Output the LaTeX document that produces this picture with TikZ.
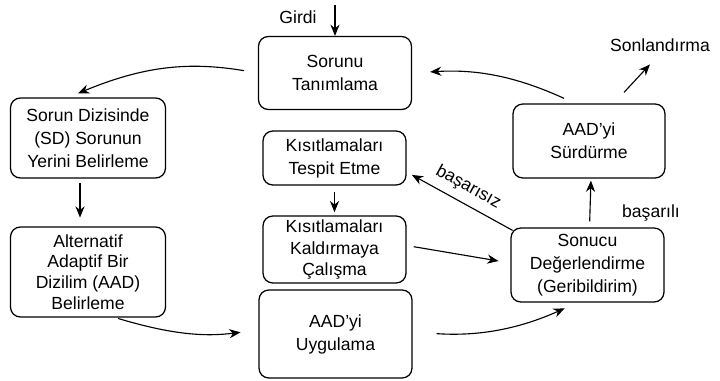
\documentclass[tikz,border=0pt]{standalone}
\usepackage{fontspec}
\setmainfont{Liberation Sans}
\usetikzlibrary{arrows.meta}

\tikzset{
  kutu/.style={draw, line width=0.9pt, rounded corners=7pt, align=center,
    font=\fontsize{12.5}{16.3}\selectfont, inner sep=2pt},
  ok/.style={-{Stealth[length=8pt,width=6.5pt]}, line width=0.8pt},
  etiket/.style={font=\fontsize{12.5}{14}\selectfont}
}

\begin{document}
\begin{tikzpicture}
    \useasboundingbox (0,0) rectangle (18,-9.525);
    % kutular
    \node[kutu, minimum width=3.825cm, minimum height=1.825cm] (sorunu) at (8.375,-1.825) {Sorunu\\Tanımlama};
    \node[kutu, minimum width=3.875cm, minimum height=2cm] (dizi) at (2.2,-3.45) {Sorun Dizisinde\\(SD) Sorunun\\Yerini Belirleme};
    \node[kutu, minimum width=3.875cm, minimum height=2.25cm, inner sep=1pt,
          font=\fontsize{12.5}{14.8}\selectfont] (alt) at (2.2,-6.8) {Alternatif\\Adaptif Bir\\Dizilim (AAD)\\Belirleme};
    \node[kutu, minimum width=3.575cm, minimum height=1.35cm] (tespit) at (8.3625,-3.95) {Kısıtlamaları\\Tespit Etme};
    \node[kutu, minimum width=3.575cm, minimum height=1.675cm, inner sep=1pt,
          font=\fontsize{12.5}{15.5}\selectfont] (kaldir) at (8.3625,-6.2375) {Kısıtlamaları\\Kaldırmaya\\Çalışma};
    \node[kutu, minimum width=3.825cm, minimum height=2.2cm] (uygula) at (8.3875,-8.35) {AAD’yi\\Uygulama};
    \node[kutu, minimum width=3.825cm, minimum height=1.85cm] (sonuc) at (14.6875,-6.625) {Sonucu\\Değerlendirme\\(Geribildirim)};
    \node[kutu, minimum width=3.8cm, minimum height=1.85cm] (surdur) at (14.725,-3.525) {AAD’yi\\Sürdürme};
    % yazilar
    \node[etiket] (girdi) at (7.45,-0.425) {Girdi};
    \coordinate (giris) at (8.375,-0.12);
    \node[etiket] (son) at (16.5,-1.125) {Sonlandırma};
    \node[etiket] (basarili) at (16.275,-5.325) {başarılı};
    % oklar
    \draw[ok] (giris) -- (sorunu);
    \draw[ok, shorten <=0.3cm, shorten >=0.45cm] ([xshift=-0.35cm]surdur.north) to[bend right=14] (sorunu.east);
    \draw[ok, shorten <=0.35cm] (sorunu.west) to[bend right=16] ([xshift=-0.25cm,yshift=0.1cm]dizi.north);
    \draw[ok, shorten <=0.12cm, shorten >=0.22cm] ([xshift=-0.2cm]dizi.south) -- ([xshift=-0.2cm]alt.north);
    \draw[ok, shorten >=0.45cm] ([xshift=0.75cm,yshift=-0.02cm]alt.south) to[bend right=12] ([yshift=0.1cm]uygula.west);
    \draw[ok, shorten <=0.6cm, shorten >=0.35cm] ([yshift=0.05cm]uygula.east) to[bend right=14] ([xshift=-0.25cm]sonuc.south);
    \draw[ok, shorten <=0.15cm] (tespit.south) -- ([yshift=0.08cm]kaldir.north);
    \draw[ok, shorten <=0.18cm, shorten >=0.3cm] ([yshift=0.1cm]kaldir.east) -- ([yshift=0.05cm]sonuc.west);
    \draw[ok, shorten <=0.05cm, shorten >=0.15cm] ([xshift=0.1cm,yshift=-0.1cm]sonuc.north west) -- node[etiket, above, sloped, yshift=2pt] (basarisiz) {başarısız} ([yshift=-0.35cm]tespit.east);
    \draw[ok, shorten <=0.15cm, shorten >=0.05cm] ([xshift=0.05cm]sonuc.north) -- ([xshift=0.05cm]surdur.south);
    \draw[ok] ([xshift=0.875cm,yshift=0.275cm]surdur.north) -- ([xshift=-0.25cm,yshift=-0.2cm]son.south);
\end{tikzpicture}
\end{document}
